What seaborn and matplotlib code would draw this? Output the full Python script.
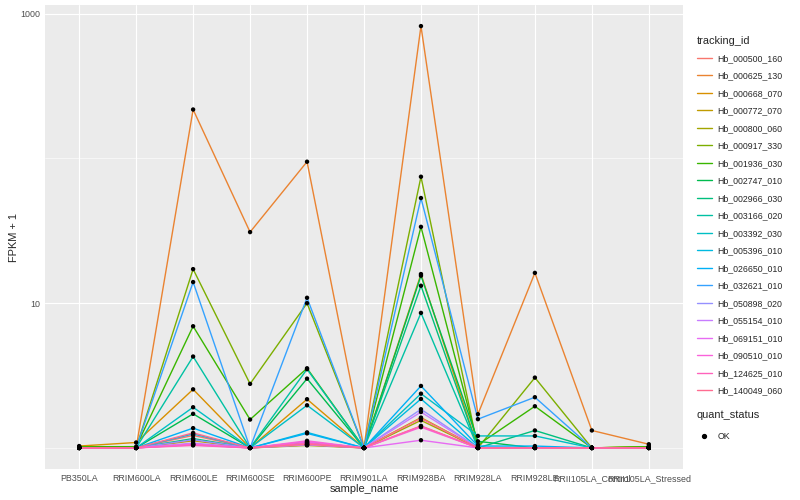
import numpy as np
import pandas as pd
import matplotlib
matplotlib.use('Agg')
import matplotlib.pyplot as plt
from matplotlib.lines import Line2D
import seaborn as sns

# samples on the x axis
samples = ['PB350LA', 'RRIM600LA', 'RRIM600LE', 'RRIM600SE', 'RRIM600PE', 'RRIM901LA',
           'RRIM928BA', 'RRIM928LA', 'RRIM928LE', 'RRII105LA_Control', 'RRII105LA_Stressed']

genes = ['Hb_000500_160', 'Hb_000625_130', 'Hb_000668_070', 'Hb_000772_070', 'Hb_000800_060',
         'Hb_000917_330', 'Hb_001936_030', 'Hb_002747_010', 'Hb_002966_030', 'Hb_003166_020',
         'Hb_003392_030', 'Hb_005396_010', 'Hb_026650_010', 'Hb_032621_010', 'Hb_050898_020',
         'Hb_055154_010', 'Hb_069151_010', 'Hb_090510_010', 'Hb_124625_010', 'Hb_140049_060']

# FPKM + 1, one list per gene, same order as samples
hb_000500_160 = [1.0, 1.0, 1.22, 1.0, 1.05, 1.0, 1.42, 1.0, 1.0, 1.0, 1.0]
hb_000625_130 = [1.0, 1.0, 218, 31, 95, 1.0, 822, 1.71, 16.2, 1.32, 1.06]
hb_000668_070 = [1.03, 1.09, 2.54, 1.0, 2.17, 1.0, 15.9, 1.0, 1.0, 1.0, 1.0]
hb_000772_070 = [1.0, 1.0, 1.12, 1.0, 1.08, 1.0, 1.62, 1.0, 1.0, 1.0, 1.0]
hb_000800_060 = [1.0, 1.0, 1.06, 1.0, 1.04, 1.0, 1.55, 1.0, 1.0, 1.0, 1.02]
hb_000917_330 = [1.0, 1.0, 17.2, 2.77, 10.0, 1.0, 74.8, 1.0, 3.06, 1.0, 1.02]
hb_001936_030 = [1.02, 1.02, 6.93, 1.57, 3.55, 1.0, 33.7, 1.05, 1.94, 1.0, 1.02]
hb_002747_010 = [1.0, 1.0, 1.72, 1.0, 3.01, 1.0, 15.5, 1.11, 1.0, 1.0, 1.0]
hb_002966_030 = [1.0, 1.0, 1.16, 1.0, 1.1, 1.0, 13.2, 1.0, 1.32, 1.0, 1.0]
hb_003166_020 = [1.0, 1.0, 4.28, 1.0, 3.5, 1.0, 8.57, 1.0, 1.0, 1.0, 1.0]
hb_003392_030 = [1.0, 1.0, 1.91, 1.0, 1.97, 1.0, 2.37, 1.21, 1.21, 1.0, 1.0]
hb_005396_010 = [1.0, 1.0, 1.25, 1.0, 1.28, 1.0, 2.18, 1.0, 1.0, 1.0, 1.0]
hb_026650_010 = [1.0, 1.0, 1.37, 1.0, 1.26, 1.0, 2.68, 1.03, 1.03, 1.0, 1.0]
hb_032621_010 = [1.0, 1.0, 14.0, 1.0, 10.9, 1.0, 53.3, 1.58, 2.24, 1.0, 1.0]
hb_050898_020 = [1.0, 1.0, 1.14, 1.0, 1.06, 1.0, 1.85, 1.0, 1.0, 1.0, 1.0]
hb_055154_010 = [1.0, 1.0, 1.08, 1.0, 1.05, 1.0, 1.77, 1.0, 1.0, 1.0, 1.0]
hb_069151_010 = [1.0, 1.0, 1.05, 1.0, 1.1, 1.0, 1.13, 1.0, 1.0, 1.0, 1.0]
hb_090510_010 = [1.0, 1.0, 1.06, 1.0, 1.12, 1.0, 1.39, 1.0, 1.0, 1.0, 1.0]
hb_124625_010 = [1.0, 1.0, 1.04, 1.0, 1.08, 1.0, 1.41, 1.0, 1.0, 1.0, 1.0]
hb_140049_060 = [1.0, 1.0, 1.27, 1.0, 1.06, 1.0, 1.6, 1.0, 1.0, 1.0, 1.0]

values = [hb_000500_160, hb_000625_130, hb_000668_070, hb_000772_070, hb_000800_060,
          hb_000917_330, hb_001936_030, hb_002747_010, hb_002966_030, hb_003166_020,
          hb_003392_030, hb_005396_010, hb_026650_010, hb_032621_010, hb_050898_020,
          hb_055154_010, hb_069151_010, hb_090510_010, hb_124625_010, hb_140049_060]

# ggplot default hue palette for 20 levels
colors = ['#F8766D', '#EA8331', '#D89000', '#C09B00', '#A3A500', '#7CAE00', '#39B600',
          '#00BB4E', '#00BF7D', '#00C1A3', '#00BFC4', '#00BAE0', '#00B0F6', '#35A2FF',
          '#9590FF', '#C77CFF', '#E76BF3', '#FA62DB', '#FF62BC', '#FF6C91']

rows = []
for g, vals in zip(genes, values):
    for s, v in zip(samples, vals):
        rows.append({'tracking_id': g, 'sample_name': s, 'fpkm': v, 'quant_status': 'OK'})
df = pd.DataFrame(rows)

sns.set_theme(style='darkgrid', rc={'axes.facecolor': '#EBEBEB', 'grid.color': 'white'})
plt.rcParams['font.family'] = ['Liberation Sans', 'DejaVu Sans']

fig, ax = plt.subplots(figsize=(8, 5), dpi=100)
fig.subplots_adjust(left=45/800, right=683/800, bottom=31/500, top=495/500)

sns.lineplot(data=df, x='sample_name', y='fpkm', hue='tracking_id', hue_order=genes,
             palette=colors, estimator=None, units='tracking_id', sort=False,
             linewidth=1.0, legend=False, ax=ax)
sns.scatterplot(data=df, x='sample_name', y='fpkm', color='black', s=10,
                edgecolor='none', legend=False, ax=ax, zorder=5)

ax.set_yscale('log')
lo = np.log10(df.fpkm.min())
hi = np.log10(df.fpkm.max())
pad = (hi - lo) * 0.05
ax.set_ylim(10 ** (lo - pad), 10 ** (hi + pad))
ax.set_xlim(-0.6, len(samples) - 0.4)

ax.set_yticks([10, 1000])
ax.set_yticklabels(['10', '1000'])
ax.set_yticks([1, 100], minor=True)
ax.yaxis.set_minor_formatter(matplotlib.ticker.NullFormatter())
ax.tick_params(axis='y', which='minor', length=0)
ax.tick_params(axis='both', which='major', length=2, width=0.6, color='#333333',
               labelsize=6.4, labelcolor='#4D4D4D', pad=1.5)
ax.grid(True, which='major', color='white', linewidth=0.8)
ax.grid(True, which='minor', axis='y', color='white', linewidth=0.4)
for sp in ax.spines.values():
    sp.set_visible(False)

ax.set_xlabel('sample_name', fontsize=7.9, labelpad=0.5)
ax.set_ylabel('FPKM + 1', fontsize=7.9, labelpad=1)

gene_handles = [Line2D([0], [0], color=c, linewidth=1.0) for c in colors]
leg1 = fig.legend(gene_handles, genes, title='tracking_id', loc='upper left',
                  bbox_to_anchor=(693/800, 1 - 32/500), frameon=False, fontsize=6.3,
                  title_fontsize=7.9, labelspacing=0.97, handlelength=1.8,
                  handletextpad=0.6, alignment='left', borderaxespad=0)
ok_handle = [Line2D([0], [0], color='black', marker='o', linestyle='none', markersize=2.8)]
leg2 = fig.legend(ok_handle, ['OK'], title='quant_status', loc='upper left',
                  bbox_to_anchor=(693/800, 1 - 406/500), frameon=False, fontsize=6.3,
                  title_fontsize=7.9, labelspacing=1.4, handlelength=1.8,
                  handletextpad=0.6, alignment='left', borderaxespad=0)

plt.savefig('out.png', dpi=100)
